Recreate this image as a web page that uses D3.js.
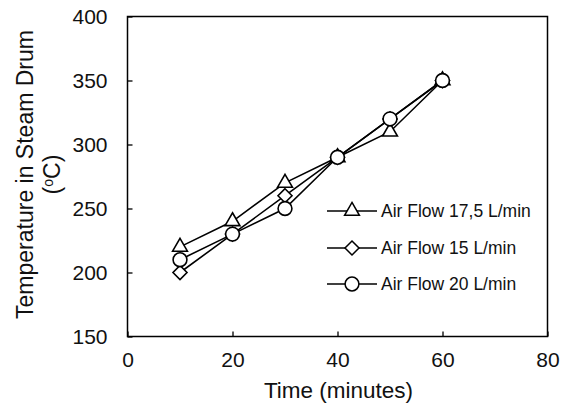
<!DOCTYPE html>
<html>
<head>
<meta charset="utf-8">
<script src="https://cdn.jsdelivr.net/npm/d3@7"></script>
<style>
  body { margin: 0; background: #fff; }
  svg text { font-family: "Liberation Sans", Arial, sans-serif; }
</style>
</head>
<body>
<div id="chart"></div>
<script>
// data
const times = [10, 20, 30, 40, 50, 60];
const flow175 = [220, 240, 270, 290, 310, 350];
const flow15 = [200, 230, 260, 290, 320, 350];
const flow20 = [210, 230, 250, 290, 320, 350];
const xTicks = [0, 20, 40, 60, 80];
const yTicks = [150, 200, 250, 300, 350, 400];

const series = [
  { name: 'Air Flow 17,5 L/min', values: flow175, symbol: d3.symbolTriangle, size: 95 },
  { name: 'Air Flow 15 L/min', values: flow15, symbol: 'diamond', size: 0 },
  { name: 'Air Flow 20 L/min', values: flow20, symbol: d3.symbolCircle, size: 150 }
];

const W = 565, H = 408;
const margin = { left: 127.5, right: 17.5, top: 16.5, bottom: 71.5 };
const iw = W - margin.left - margin.right;
const ih = H - margin.top - margin.bottom;

const svg = d3.select('#chart').append('svg')
  .attr('width', W)
  .attr('height', H);

const g = svg.append('g')
  .attr('transform', `translate(${margin.left},${margin.top})`);

const x = d3.scaleLinear().domain([0, 80]).range([0, iw]);
const y = d3.scaleLinear().domain([150, 400]).range([ih, 0]);

// axes, ticks point inward
const xAxis = g.append('g')
  .attr('transform', `translate(0,${ih})`)
  .call(d3.axisBottom(x).tickValues(xTicks).tickSize(-5).tickPadding(16));
const yAxis = g.append('g')
  .call(d3.axisLeft(y).tickValues(yTicks).tickSize(-5).tickPadding(20));

[xAxis, yAxis].forEach(a => {
  a.attr('font-family', null).attr('font-size', null);
  a.select('.domain').remove();
  a.selectAll('line').attr('stroke', '#000').attr('stroke-width', 1.3);
  a.selectAll('text').attr('fill', '#111').style('font-size', '21px');
});

// box frame
g.append('rect')
  .attr('width', iw)
  .attr('height', ih)
  .attr('fill', 'none')
  .attr('stroke', '#000')
  .attr('stroke-width', 1.5);

// axis titles
svg.append('text')
  .attr('x', margin.left + iw / 2 + 1)
  .attr('y', 398)
  .attr('text-anchor', 'middle')
  .style('font-size', '22.5px')
  .attr('fill', '#111')
  .text('Time (minutes)');

const ylab = svg.append('text')
  .attr('transform', `translate(33,${margin.top + ih / 2 - 2}) rotate(-90)`)
  .attr('text-anchor', 'middle')
  .style('font-size', '23px')
  .attr('fill', '#111');
ylab.append('tspan').attr('x', 0).attr('dy', 0).text('Temperature in Steam Drum');
const l2 = ylab.append('tspan').attr('x', 0).attr('dy', 27).text('(');
l2.append('tspan').attr('dy', -7).style('font-size', '14px').text('o');
ylab.append('tspan').attr('dy', 7).text('C)');

function symbolPath(s) {
  if (s.symbol === 'diamond') return 'M0,-7L7,0L0,7L-7,0Z';
  return d3.symbol().type(s.symbol).size(s.size)();
}

const line = d3.line()
  .x((d, i) => x(times[i]))
  .y(d => y(d));

// lines first, then markers on top
series.forEach(s => {
  g.append('path')
    .datum(s.values)
    .attr('d', line)
    .attr('fill', 'none')
    .attr('stroke', '#000')
    .attr('stroke-width', 1.6);
});

series.forEach(s => {
  g.selectAll(null)
    .data(s.values)
    .enter().append('path')
    .attr('d', symbolPath(s))
    .attr('transform', (d, i) => `translate(${x(times[i])},${y(d)})`)
    .attr('fill', '#fff')
    .attr('stroke', '#000')
    .attr('stroke-width', 1.6);
});

// legend
const legend = svg.append('g');
const legY = [211, 248, 284];
series.forEach((s, i) => {
  const row = legend.append('g').attr('transform', `translate(0,${legY[i]})`);
  row.append('line')
    .attr('x1', 327).attr('x2', 377)
    .attr('stroke', '#000').attr('stroke-width', 1.5);
  row.append('path')
    .attr('d', symbolPath(s))
    .attr('transform', 'translate(352,0)')
    .attr('fill', '#fff')
    .attr('stroke', '#000')
    .attr('stroke-width', 1.5);
  row.append('text')
    .attr('x', 381)
    .attr('y', 6)
    .style('font-size', '17.5px')
    .attr('fill', '#111')
    .text(s.name);
});
</script>
</body>
</html>
